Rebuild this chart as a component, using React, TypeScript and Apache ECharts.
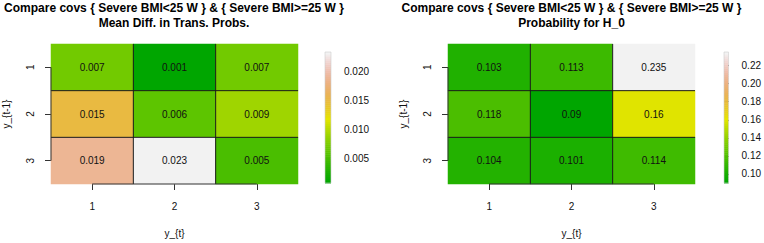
import React, { useEffect, useRef } from "react";
import * as echarts from "echarts";

// ---- data ----
const rowLabels = ["1", "2", "3"]; // y_{t-1}
const colLabels = ["1", "2", "3"]; // y_{t}

const meanDiffRows = [
  [0.007, 0.0007, 0.007],
  [0.015, 0.006, 0.009],
  [0.019, 0.0233, 0.005],
];
const probH0Rows = [
  [0.103, 0.113, 0.235],
  [0.118, 0.09, 0.16],
  [0.104, 0.101, 0.114],
];

const leftBarTicks = [0.005, 0.01, 0.015, 0.02];
const rightBarTicks = [0.1, 0.12, 0.14, 0.16, 0.18, 0.2, 0.22];

const titleLine1 = "Compare covs { Severe BMI<25 W } & { Severe BMI>=25 W }";
const leftSubtitle = "Mean Diff. in Trans. Probs.";
const rightSubtitle = "Probability for H_0";
const xName = "y_{t}";
const yName = "y_{t-1}";

const FONT = "'Liberation Sans', Arial, Helvetica, sans-serif";

function hsvToHex(h: number, s: number, v: number): string {
  const i = Math.floor(h * 6);
  const f = h * 6 - i;
  const p = v * (1 - s);
  const q = v * (1 - f * s);
  const t = v * (1 - (1 - f) * s);
  let r = 0, g = 0, b = 0;
  switch (((i % 6) + 6) % 6) {
    case 0: r = v; g = t; b = p; break;
    case 1: r = q; g = v; b = p; break;
    case 2: r = p; g = v; b = t; break;
    case 3: r = p; g = q; b = v; break;
    case 4: r = t; g = p; b = v; break;
    default: r = v; g = p; b = q; break;
  }
  const hx = (x: number) => Math.round(x * 255).toString(16).padStart(2, "0");
  return "#" + hx(r) + hx(g) + hx(b);
}

// R's terrain.colors(n)
function terrainColors(n: number): string[] {
  const k = Math.floor(n / 2);
  const out: string[] = [];
  for (let i = 0; i < k; i++) {
    const u = k === 1 ? 0 : i / (k - 1);
    out.push(hsvToHex(4 / 12 + (2 / 12 - 4 / 12) * u, 1, 0.65 + 0.25 * u));
  }
  const m = n - k;
  for (let i = 1; i <= m; i++) {
    const u = i / m;
    out.push(hsvToHex((2 / 12) * (1 - u), 1 - u, 0.9 + 0.05 * u));
  }
  return out;
}
const palette = terrainColors(64);

const fmtCell = (v: number) => String(Number(v.toFixed(3)));

function toHeat(rows: number[][]) {
  const d: number[][] = [];
  rows.forEach((r, ri) => r.forEach((v, ci) => d.push([ci, ri, v])));
  return d;
}
function extent(rows: number[][]) {
  const all = rows.flat();
  return [Math.min(...all), Math.max(...all)];
}

export default function App() {
  const ref = useRef<HTMLDivElement>(null);
  useEffect(() => {
    if (!ref.current) return;
    const chart = echarts.init(ref.current, undefined, { renderer: "svg" });

    const panels = [
      { rows: meanDiffRows, ticks: leftBarTicks, dec: 3, left: 50, width: 248, barLeft: 325, sub: leftSubtitle },
      { rows: probH0Rows, ticks: rightBarTicks, dec: 2, left: 448, width: 247, barLeft: 724, sub: rightSubtitle },
    ];

    const grid: any[] = [];
    const xAxis: any[] = [];
    const yAxis: any[] = [];
    const series: any[] = [];
    const visualMap: any[] = [];
    const graphic: any[] = [];

    panels.forEach((p, pi) => {
      const [mn, mx] = extent(p.rows);
      const gH = pi * 2; // heatmap grid
      const gB = pi * 2 + 1; // colorbar grid
      grid.push({ left: p.left, top: 44, width: p.width, height: 146 });
      grid.push({ left: p.barLeft, top: 52, width: 6, height: 131 });

      xAxis.push({
        type: "category", gridIndex: gH, data: colLabels,
        axisLine: { show: false },
        axisTick: { show: true, alignWithLabel: true, length: 6, lineStyle: { color: "#333" } },
        axisLabel: { fontSize: 10, color: "#111", fontFamily: FONT, margin: 17 },
        splitLine: { show: false },
        name: xName, nameLocation: "middle", nameGap: 44,
        nameTextStyle: { fontSize: 10, color: "#111", fontFamily: FONT },
      });
      yAxis.push({
        type: "category", gridIndex: gH, data: rowLabels, inverse: true,
        axisLine: { show: false },
        axisTick: { show: true, alignWithLabel: true, length: 6, lineStyle: { color: "#333" } },
        axisLabel: { fontSize: 10, color: "#111", fontFamily: FONT, rotate: 90, margin: 16 },
        splitLine: { show: false },
        name: yName, nameLocation: "middle", nameGap: 40, nameRotate: 90,
        nameTextStyle: { fontSize: 10, color: "#111", fontFamily: FONT },
      });
      xAxis.push({ type: "value", gridIndex: gB, min: 0, max: 1, show: false });
      yAxis.push({
        type: "value", gridIndex: gB, min: mn, max: mx, position: "right",
        axisLine: { show: false },
        splitLine: { show: false },
        axisTick: { show: true, length: 5, customValues: p.ticks, lineStyle: { color: "#333" } },
        axisLabel: {
          show: true, customValues: p.ticks, fontSize: 10, color: "#111", fontFamily: FONT, margin: 13,
          formatter: (v: number) => v.toFixed(p.dec),
        },
      });

      const heatIndex = series.length;
      series.push({
        type: "heatmap", xAxisIndex: gH, yAxisIndex: gH, data: toHeat(p.rows),
        label: {
          show: true, fontSize: 10, color: "#111", fontFamily: FONT,
          formatter: (q: any) => fmtCell(q.value[2]),
        },
        itemStyle: { borderWidth: 0 },
        emphasis: { disabled: true },
        z: 1,
      });
      visualMap.push({
        type: "continuous", show: false, seriesIndex: heatIndex, dimension: 2,
        min: mn, max: mx, inRange: { color: palette },
      });

      const nR = p.rows.length;
      const nC = p.rows[0].length;
      series.push({
        type: "custom", xAxisIndex: gH, yAxisIndex: gH, data: [[0, 0]], silent: true, z: 5,
        renderItem: (_params: any, api: any) => {
          const p0 = api.coord([0, 0]);
          const p1 = api.coord([nC - 1, nR - 1]);
          const w = (p1[0] - p0[0]) / (nC - 1);
          const h = (p1[1] - p0[1]) / (nR - 1);
          const x0 = p0[0] - w / 2;
          const y0 = p0[1] - h / 2;
          const children: any[] = [];
          const ls = { stroke: "#1a1a1a", lineWidth: 1 };
          for (let i = 1; i < nC; i++) {
            children.push({ type: "line", shape: { x1: x0 + i * w, y1: y0, x2: x0 + i * w, y2: y0 + nR * h }, style: ls });
          }
          for (let j = 1; j < nR; j++) {
            children.push({ type: "line", shape: { x1: x0, y1: y0 + j * h, x2: x0 + nC * w, y2: y0 + j * h }, style: ls });
          }
          const axs = { stroke: "#333", lineWidth: 1 };
          children.push({ type: "line", shape: { x1: p0[0], y1: y0 + nR * h, x2: p1[0], y2: y0 + nR * h }, style: axs });
          children.push({ type: "line", shape: { x1: x0, y1: p0[1], x2: x0, y2: p1[1] }, style: axs });
          return { type: "group", children };
        },
      });

      // colour bar
      series.push({
        type: "custom", xAxisIndex: gB, yAxisIndex: gB, data: [[0, mn]], silent: true, z: 2,
        renderItem: (_params: any, api: any) => {
          const children: any[] = [];
          const n = palette.length;
          const left = api.coord([0, mn])[0];
          const right = api.coord([1, mn])[0];
          for (let i = 0; i < n; i++) {
            const a = api.coord([0, mn + ((mx - mn) * i) / n])[1];
            const b = api.coord([0, mn + ((mx - mn) * (i + 1)) / n])[1];
            children.push({
              type: "rect",
              shape: { x: left, y: b, width: right - left, height: a - b + 0.5 },
              style: { fill: palette[i] },
            });
          }
          const top = api.coord([0, mx])[1];
          const bot = api.coord([0, mn])[1];
          children.push({
            type: "rect", shape: { x: left, y: top, width: right - left, height: bot - top },
            style: { fill: "none", stroke: "#cfcfcf", lineWidth: 0.6 },
          });
          return { type: "group", children };
        },
      });

      graphic.push({
        type: "text", x: p.left + p.width / 2, y: 0,
        style: {
          text: titleLine1 + "\n" + p.sub, fontSize: 12, fontWeight: "bold", fontFamily: FONT,
          align: "center", verticalAlign: "top", lineHeight: 15, fill: "#000",
        },
      });
    });

    chart.setOption({
      animation: false,
      backgroundColor: "#ffffff",
      grid, xAxis, yAxis, series, visualMap, graphic,
    });
    return () => chart.dispose();
  }, []);

  return (
    <div
      ref={ref}
      style={{ position: "fixed", left: 0, top: 0, width: 764, height: 243 }}
    />
  );
}
